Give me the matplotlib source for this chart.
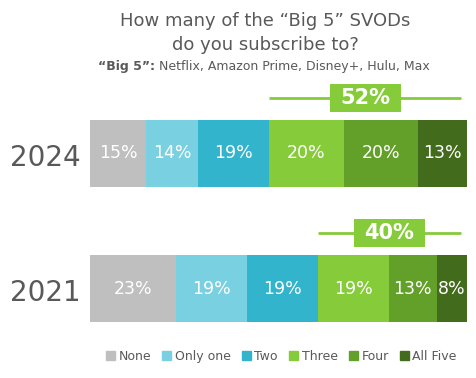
import matplotlib.pyplot as plt
from matplotlib.patches import Patch, Rectangle

years = ['2024', '2021']
categories = ['None', 'Only one', 'Two', 'Three', 'Four', 'All Five']
values = {
    '2024': [15, 14, 19, 20, 20, 13],
    '2021': [23, 19, 19, 19, 13, 8],
}
top3_share = ['52%', '40%']
colors = ['#BFBFBF', '#79D0E0', '#31B4CC', '#86CB3A', '#62A02A', '#426B1C']
gray = '#595959'

plt.rcParams['font.family'] = ['DejaVu Sans']

fig = plt.figure(figsize=(4.77, 3.78), dpi=100)
ax = fig.add_axes([90 / 477, 48 / 378, 377 / 477, 250 / 378])

bar_h = 0.496
for i, yr in enumerate(years):
    left = 0
    for j, v in enumerate(values[yr]):
        ax.barh(i, v, left=left, height=bar_h, color=colors[j], edgecolor='none')
        ax.text(left + v / 2, i, f'{v}%', ha='center', va='center',
                color='white', fontsize=12.5)
        left += v
    # bracket over the three highest groups
    start = sum(values[yr][:3])
    end = left - 1.5
    ly = i - bar_h / 2 - 0.16
    mid = (start + end) / 2
    ax.plot([start, end], [ly, ly], color='#86CB3A', lw=2, solid_capstyle='butt')
    ax.add_patch(Rectangle((mid - 9.5, ly - 0.104), 19, 0.208, fc='#86CB3A',
                           ec='none', zorder=3))
    ax.text(mid, ly, top3_share[i], ha='center', va='center', zorder=4,
            color='white', fontsize=15, fontweight='bold')
    ax.text(-2.5, i + 0.03, yr, ha='right', va='center', color=gray, fontsize=20,
            clip_on=False)

ax.set_xlim(0, 101)
ax.set_ylim(1.307, -0.544)
ax.axis('off')

fig.text(0.556, 0.945, 'How many of the \u201cBig 5\u201d SVODs', ha='center', va='center',
         color=gray, fontsize=13)
fig.text(0.556, 0.88, 'do you subscribe to?', ha='center', va='center',
         color=gray, fontsize=13)
fig.text(0.325, 0.825, '\u201cBig 5\u201d:', ha='right', va='center', color=gray,
         fontsize=9, fontweight='bold')
fig.text(0.325, 0.825, ' Netflix, Amazon Prime, Disney+, Hulu, Max', ha='left',
         va='center', color=gray, fontsize=9)

handles = [Patch(color=c, label=l) for c, l in zip(colors, categories)]
fig.legend(handles=handles, loc='center', bbox_to_anchor=(0.59, 0.057), ncol=6,
           frameon=False, fontsize=9, handlelength=0.7, handleheight=0.7,
           handletextpad=0.3, columnspacing=0.9, labelcolor=gray)

fig.savefig('out.png', dpi=100)
